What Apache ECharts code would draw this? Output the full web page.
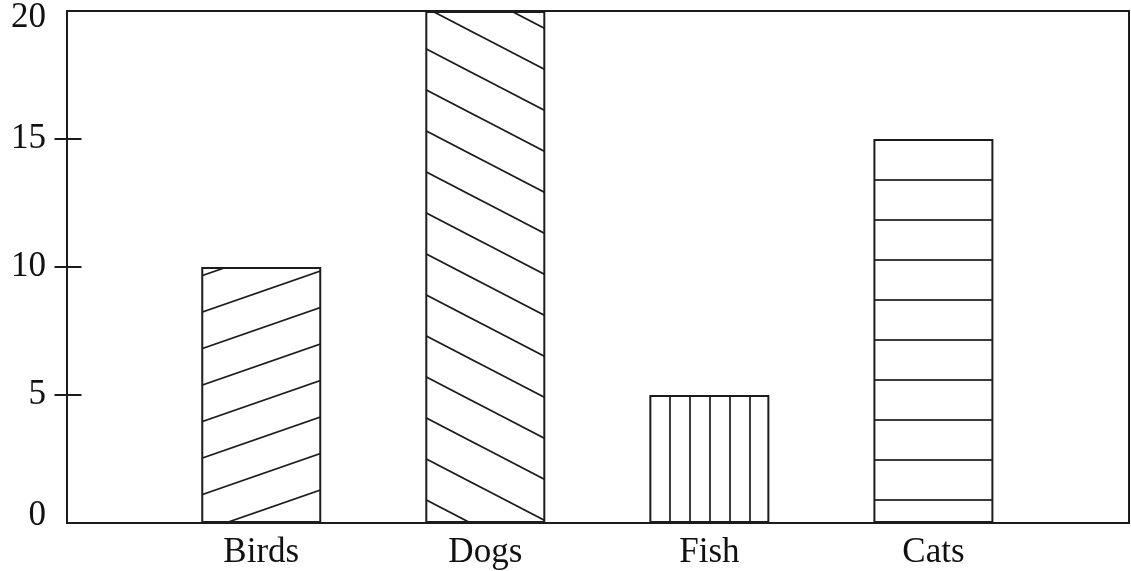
<!DOCTYPE html>
<html>
<head>
<meta charset="utf-8">
<script src="https://cdn.jsdelivr.net/npm/echarts@6/dist/echarts.min.js"></script>
<style>
html,body{margin:0;padding:0;background:#fff;}
#chart{width:1131px;height:571px;}
</style>
</head>
<body>
<div id="chart"></div>
<script>
// ---- data ----
const categories = ['Birds', 'Dogs', 'Fish', 'Cats'];
const values = [10, 20, 5, 15];
const yTicks = [0, 5, 10, 15, 20];
const yTickMarks = [5, 10, 15];

// ---- hatch patterns (style only) ----
const INK = '#1c1c1c';
function diagTile(W, H, slope, c, period) {
  const cv = document.createElement('canvas');
  cv.width = W; cv.height = H;
  const ctx = cv.getContext('2d');
  ctx.fillStyle = '#fff'; ctx.fillRect(0, 0, W, H);
  ctx.strokeStyle = INK; ctx.lineWidth = 1.7;
  for (let k = -12; k <= 12; k++) {
    const off = c + k * period;
    ctx.beginPath();
    ctx.moveTo(-W, slope * (-W) + off);
    ctx.lineTo(2 * W, slope * (2 * W) + off);
    ctx.stroke();
  }
  return { image: cv, repeat: 'repeat' };
}
function hTile(H, y) {
  const cv = document.createElement('canvas');
  cv.width = 10; cv.height = H;
  const ctx = cv.getContext('2d');
  ctx.fillStyle = '#fff'; ctx.fillRect(0, 0, 10, H);
  ctx.fillStyle = INK; ctx.fillRect(0, y - 0.85, 10, 1.7);
  return { image: cv, repeat: 'repeat' };
}
function vTile(W, x) {
  const cv = document.createElement('canvas');
  cv.width = W; cv.height = 10;
  const ctx = cv.getContext('2d');
  ctx.fillStyle = '#fff'; ctx.fillRect(0, 0, W, 10);
  ctx.fillStyle = INK; ctx.fillRect(x - 0.85, 0, 1.7, 10);
  return { image: cv, repeat: 'repeat' };
}
const patterns = [
  diagTile(210, 73, -73 / 210, 17.4, 36.5), // Birds: rising lines
  diagTile(79, 41, 41 / 79, 32.7, 41),      // Dogs: falling lines
  vTile(20, 10),                            // Fish: vertical lines
  hTile(40, 20)                             // Cats: horizontal lines
];

const font = 'Liberation Serif, Times New Roman, serif';
const chart = echarts.init(document.getElementById('chart'));
chart.setOption({
  animation: false,
  backgroundColor: '#fff',
  grid: {
    left: 67, top: 11, width: 1062, bottom: 48,
    show: true, borderColor: INK, borderWidth: 2, backgroundColor: 'transparent'
  },
  xAxis: {
    type: 'value', min: 0.133, max: 4.873,
    axisLine: { show: false }, axisTick: { show: false }, splitLine: { show: false },
    axisLabel: {
      customValues: categories.map((c, i) => i + 1),
      formatter: v => categories[Math.round(v) - 1] || '',
      fontFamily: font, fontSize: 35, color: '#111', margin: 12
    }
  },
  yAxis: {
    type: 'value', min: yTicks[0], max: yTicks[yTicks.length - 1], interval: 5,
    offset: -14.5,
    axisLine: { show: false }, splitLine: { show: false },
    axisTick: { show: true, customValues: yTickMarks, length: 27, lineStyle: { color: INK, width: 2 } },
    axisLabel: {
      customValues: yTicks,
      fontFamily: font, fontSize: 35, color: '#111', margin: 35.5,
      formatter: v => v === 0 ? '{lo|0}' : (v === 20 ? '{hi|20}' : String(v)),
      rich: {
        lo: { fontFamily: font, fontSize: 35, color: '#111', padding: [0, 0, 14, 0] },
        hi: { fontFamily: font, fontSize: 35, color: '#111', padding: [14, 0, 0, 0] }
      }
    }
  },
  series: [{
    type: 'bar',
    barWidth: 120,
    data: values.map((v, i) => ({
      value: [i + 1, v],
      itemStyle: { color: patterns[i], borderColor: INK, borderWidth: 2 }
    }))
  }]
});
</script>
</body>
</html>
